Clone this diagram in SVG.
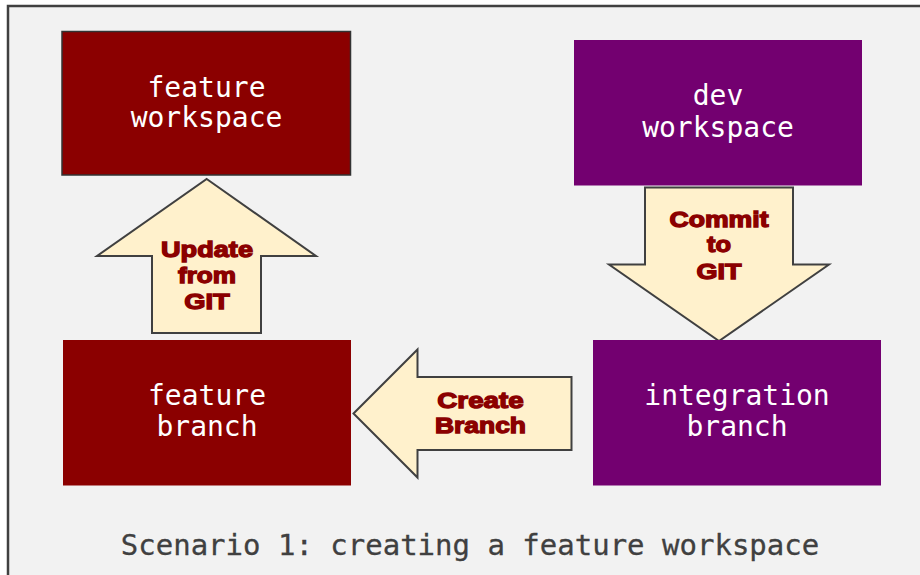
<svg xmlns="http://www.w3.org/2000/svg" width="920" height="575" viewBox="0 0 920 575">
<style>
.node-text{font-family:"DejaVu Sans Mono","Liberation Mono",monospace;font-size:28px;fill:#ffffff;text-anchor:middle}
.arrow{fill:#fff1cc;stroke:#404040;stroke-width:2;stroke-linejoin:miter}
.arrow-text{font-family:"Liberation Sans",Arial,sans-serif;font-weight:bold;font-size:22px;fill:#8b0000;stroke:#8b0000;stroke-width:1.3;text-anchor:middle}
.caption{font-family:"DejaVu Sans Mono","Liberation Mono",monospace;font-size:29px;fill:#404040;stroke:#404040;stroke-width:0.3;text-anchor:middle}
</style>
<rect x="0" y="0" width="920" height="575" fill="#ffffff"/>
<rect x="8" y="6" width="930" height="600" fill="#f2f2f2" stroke="#404040" stroke-width="2.5"/>
<g id="connectors">
  <g id="update-from-git">
    <polygon class="arrow" points="206.7,179 316,256 261,256 261,333 152,333 152,256 97,256"/>
    <text class="arrow-text" x="207" y="256.5" textLength="92" lengthAdjust="spacingAndGlyphs">Update</text>
    <text class="arrow-text" x="207" y="282.5" textLength="58" lengthAdjust="spacingAndGlyphs">from</text>
    <text class="arrow-text" x="207" y="308.5" textLength="45.5" lengthAdjust="spacingAndGlyphs">GIT</text>
  </g>
  <g id="commit-to-git">
    <polygon class="arrow" points="645,187.5 793,187.5 793,264.5 829,264.5 719,341 609,264.5 645,264.5"/>
    <text class="arrow-text" x="719" y="226.5" textLength="99" lengthAdjust="spacingAndGlyphs">Commit</text>
    <text class="arrow-text" x="719" y="252" textLength="24" lengthAdjust="spacingAndGlyphs">to</text>
    <text class="arrow-text" x="719" y="278.5" textLength="45" lengthAdjust="spacingAndGlyphs">GIT</text>
  </g>
  <g id="create-branch">
    <polygon class="arrow" points="353.5,413.5 417.5,349.5 417.5,377 571.5,377 571.5,450 417.5,450 417.5,477.5"/>
    <text class="arrow-text" x="480.5" y="407.5" textLength="86.5" lengthAdjust="spacingAndGlyphs">Create</text>
    <text class="arrow-text" x="480.5" y="433.3" textLength="91" lengthAdjust="spacingAndGlyphs">Branch</text>
  </g>
</g>
<g id="feature-workspace">
  <rect x="62" y="31.5" width="288.5" height="143.5" fill="#8b0000" stroke="#333333" stroke-width="1.5"/>
  <text class="node-text" x="206.5" y="96.5">feature</text>
  <text class="node-text" x="206.5" y="126.5">workspace</text>
</g>
<g id="dev-workspace">
  <rect x="574" y="40" width="288" height="145.5" fill="#730070"/>
  <text class="node-text" x="718" y="104.5">dev</text>
  <text class="node-text" x="718" y="136.5">workspace</text>
</g>
<g id="feature-branch">
  <rect x="63" y="340" width="288" height="145.5" fill="#8b0000"/>
  <text class="node-text" x="207" y="405">feature</text>
  <text class="node-text" x="207" y="436">branch</text>
</g>
<g id="integration-branch">
  <rect x="593" y="340" width="288" height="145.5" fill="#730070"/>
  <text class="node-text" x="737" y="405">integration</text>
  <text class="node-text" x="737" y="436">branch</text>
</g>
<text class="caption" x="470" y="555">Scenario 1: creating a feature workspace</text>
</svg>
